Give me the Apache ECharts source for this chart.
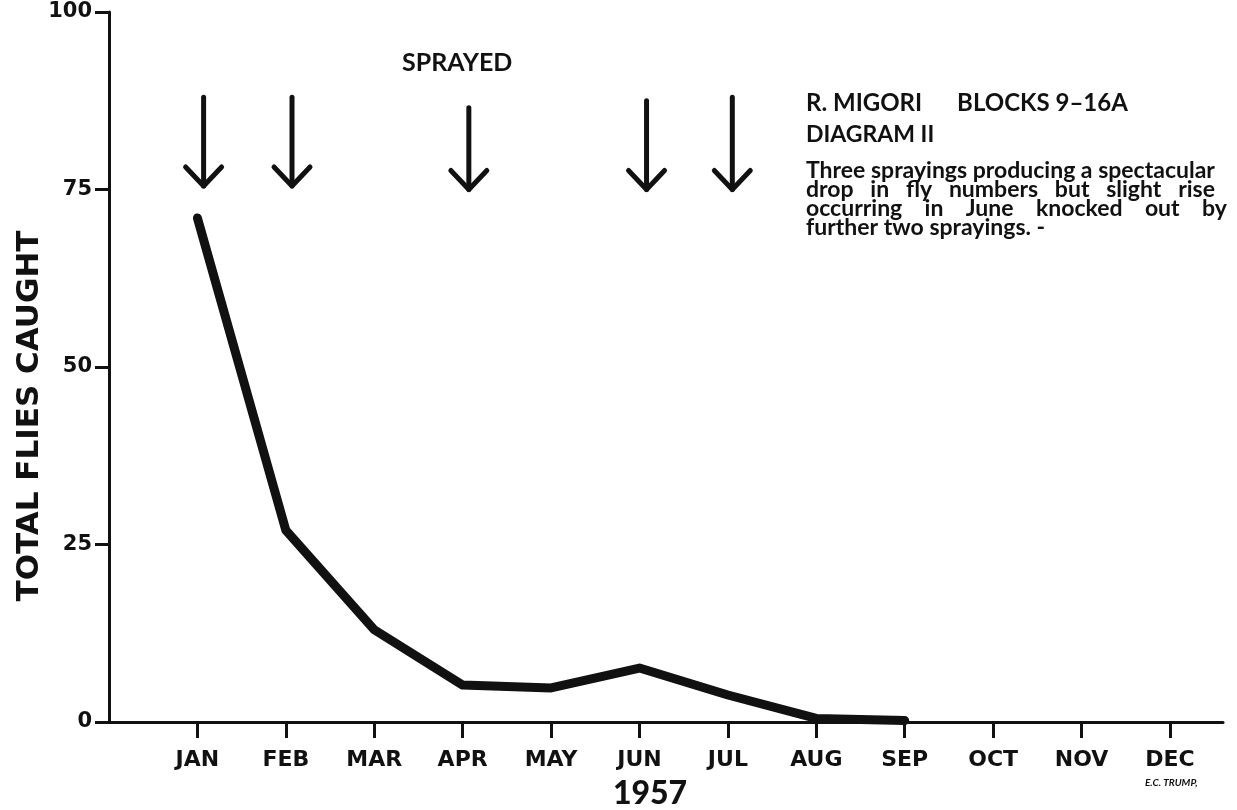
<!DOCTYPE html>
<html>
<head>
<meta charset="utf-8">
<script src="https://cdn.jsdelivr.net/npm/echarts@6/dist/echarts.min.js"></script>
<style>
  html, body { margin: 0; padding: 0; background: #fff; }
  #chart { width: 1237px; height: 810px; }
</style>
</head>
<body>
<div id="chart"></div>
<script>
// months on the x axis (1 = JAN)
const months = ['JAN', 'FEB', 'MAR', 'APR', 'MAY', 'JUN', 'JUL', 'AUG', 'SEP', 'OCT', 'NOV', 'DEC'];
const monthIdx = [1, 2, 3, 4, 5, 6, 7, 8, 9, 10, 11, 12];
// total flies caught, JAN..SEP
const flies = [71, 27, 13, 5.2, 4.8, 7.6, 3.8, 0.5, 0.2];
// spraying arrows: time of spraying (months), top and tip of arrow in axis units
const sprayMonth = [1.07, 2.07, 4.07, 6.08, 7.05];
const sprayTop = [88, 88, 86.5, 87.5, 88];
const sprayTip = [75.5, 75.5, 75, 75, 75];
const yTicks = [0, 25, 50, 75, 100];

const lineData = flies.map((v, i) => [monthIdx[i], v]);
const arrowData = sprayMonth.map((m, i) => [m, sprayTop[i], sprayTip[i]]);

const ink = '#111';
const chart = echarts.init(document.getElementById('chart'));

function renderArrow(params, api) {
    const top = api.coord([api.value(0), api.value(1)]);
    const tip = api.coord([api.value(0), api.value(2)]);
    const hw = 18, hh = 19;
    const style = { stroke: ink, lineWidth: 5, lineCap: 'round', lineJoin: 'round', fill: null };
    return {
        type: 'group',
        children: [
            { type: 'line', shape: { x1: top[0], y1: top[1], x2: tip[0], y2: tip[1] }, style },
            { type: 'polyline', shape: { points: [[tip[0] - hw, tip[1] - hh], [tip[0], tip[1]], [tip[0] + hw, tip[1] - hh]] }, style }
        ]
    };
}

chart.setOption({
    animation: false,
    backgroundColor: '#fff',
    grid: { left: 109, right: 14, top: 12, bottom: 88, outerBoundsMode: 'none', containLabel: false },
    xAxis: {
        type: 'value',
        min: 0,
        max: 12.6,
        interval: 1,
        splitLine: { show: false },
        axisLine: { lineStyle: { color: ink, width: 3 } },
        axisTick: { customValues: monthIdx, length: 16, lineStyle: { color: ink, width: 3 } },
        axisLabel: {
            customValues: monthIdx,
            margin: 27,
            color: ink,
            fontFamily: 'DejaVu Sans',
            fontWeight: 'bold',
            fontSize: 22,
            formatter: v => months[Math.round(v) - 1] || ''
        }
    },
    yAxis: {
        type: 'value',
        min: 0,
        max: 100,
        interval: 25,
        splitLine: { show: false },
        axisLine: { show: true, lineStyle: { color: ink, width: 3 } },
        axisTick: { show: true, customValues: yTicks, length: 14, lineStyle: { color: ink, width: 3 } },
        axisLabel: {
            margin: 17,
            color: ink,
            fontFamily: 'DejaVu Sans',
            fontWeight: 'bold',
            fontSize: 21
        }
    },
    series: [
        {
            type: 'line',
            data: lineData,
            showSymbol: false,
            lineStyle: { color: ink, width: 9, cap: 'round', join: 'round' }
        },
        {
            type: 'custom',
            data: arrowData,
            renderItem: renderArrow,
            clip: false
        }
    ],
    graphic: [
        {
            type: 'text', x: 30, y: 416, rotation: Math.PI / 2,
            style: { text: 'TOTAL FLIES CAUGHT', fill: ink, font: 'bold 31px "DejaVu Sans"', align: 'center', verticalAlign: 'middle' }
        },
        { type: 'text', x: 650, y: 794, style: { text: '1957', fill: ink, font: '900 32px Lato', align: 'center', verticalAlign: 'middle' } },
        { type: 'text', left: 402, top: 50, style: { text: 'SPRAYED', fill: ink, font: 'bold 25px Lato' } },
        { type: 'text', left: 806, top: 91, style: { text: 'R. MIGORI      BLOCKS 9–16A', fill: ink, font: 'bold 24px Lato' } },
        { type: 'text', left: 806, top: 123, style: { text: 'DIAGRAM II', fill: ink, font: 'bold 23px Lato' } },
        { type: 'text', left: 806, top: 159, style: { text: 'Three sprayings producing a spectacular', fill: ink, font: 'bold 23px Lato' } },
        { type: 'text', left: 806, top: 178, style: { text: 'drop   in   fly   numbers   but   slight   rise', fill: ink, font: 'bold 23px Lato' } },
        { type: 'text', left: 806, top: 197, style: { text: 'occurring    in    June    knocked    out    by', fill: ink, font: 'bold 23px Lato' } },
        { type: 'text', left: 806, top: 216, style: { text: 'further two sprayings. -', fill: ink, font: 'bold 23px Lato' } },
        { type: 'text', left: 1145, top: 778, style: { text: 'E.C. TRUMP,', fill: ink, font: 'italic bold 10px Lato' } }
    ]
});
</script>
</body>
</html>
